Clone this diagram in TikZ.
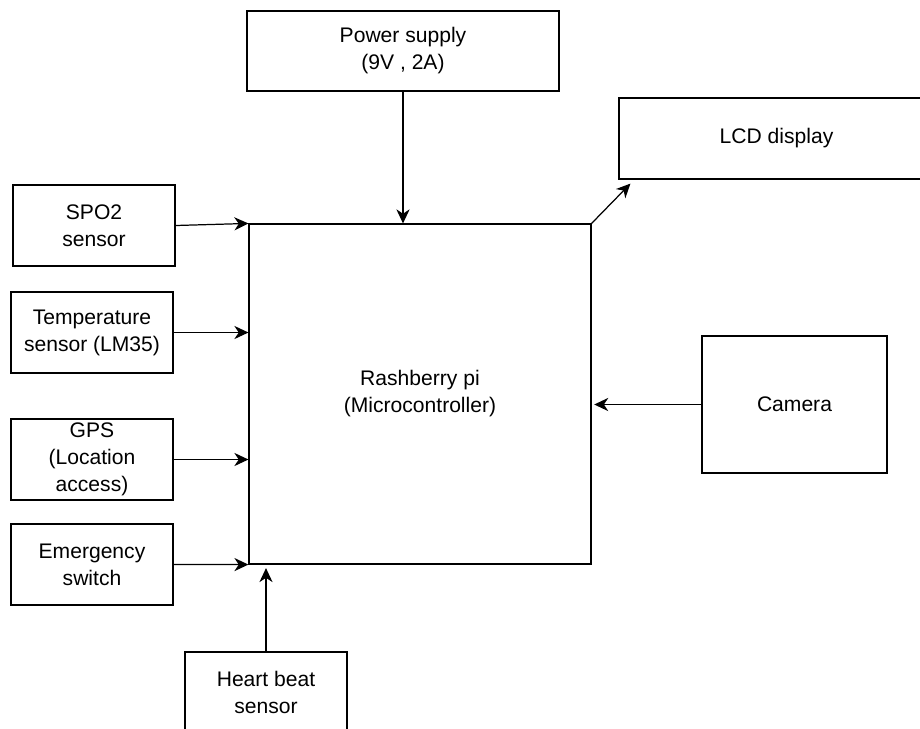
\documentclass[tikz,border=0pt]{standalone}
\usepackage{fontspec}
\setmainfont{Liberation Sans}
\usetikzlibrary{arrows.meta}
\tikzset{>={Stealth[length=8pt,width=7.5pt,inset=2.5pt]}}

\begin{document}
\begin{tikzpicture}[x=0.02cm, y=-0.02cm, line width=0.7pt,
		block/.style={draw, rectangle, align=center, inner sep=0pt, font=\fontsize{12}{15.4}\selectfont},
		sensor/.style={block, minimum width=3.24cm, minimum height=1.62cm}]
		% Frame
		\useasboundingbox (0,0) rectangle (920,728);
		
		% Blocks
		\node[block, minimum width=6.84cm, minimum height=6.8cm] (pi) at (420,394) {Rashberry pi\\(Microcontroller)};
		\node[block, minimum width=6.24cm, minimum height=1.6cm] (power) at (403,51) {Power supply\\(9V , 2A)};
		\node[block, minimum width=6.3cm, minimum height=1.62cm] (lcd) at (776.5,138.5) {LCD display};
		\node[block, minimum width=3.7cm, minimum height=2.74cm] (camera) at (794.5,404.5) {Camera};
		
		% Sensors
		\node[sensor] (spo) at (94,225.5) {SPO2\\sensor};
		\node[sensor] (temp) at (92,332.5) {Temperature\\sensor (LM35)};
		\node[sensor] (gps) at (92,459.5) {GPS\\(Location\\access)};
		\node[sensor] (switch) at (92,564.5) {Emergency\\switch};
		\node[sensor, minimum height=1.6cm] (heart) at (266,692) {Heart beat\\sensor};
		
		% Arrows
		\draw[->] (power.south) -- (power.south |- pi.north);
		\draw[->] (spo.east) -- (pi.north west);
		\draw[->] (temp.east) -- (temp.east -| pi.west);
		\draw[->] (gps.east) -- (gps.east -| pi.west);
		\draw[->] (switch.east) -- (pi.south west);
		\draw[->, shorten >=2pt] (heart.north) -- (heart.north |- pi.south);
		\draw[->, shorten >=1.5pt] (camera.west) -- (camera.west -| pi.east);
		\draw[->] (pi.north east) -- ([shift={(12,4)}]lcd.south west);
	\end{tikzpicture}
\end{document}
